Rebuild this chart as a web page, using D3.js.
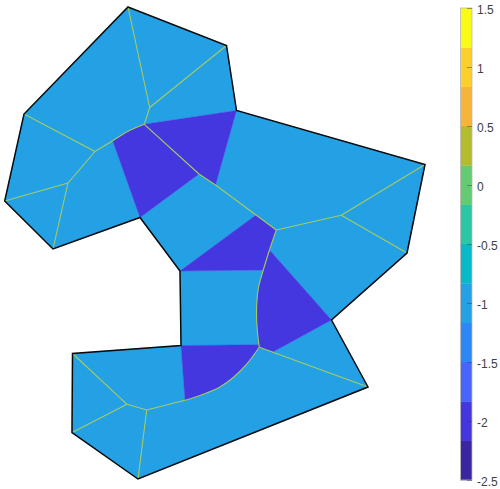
<!DOCTYPE html>
<html><head><meta charset="utf-8">
<script src="https://cdn.jsdelivr.net/npm/d3@7"></script>
<style>html,body{margin:0;padding:0;background:#fff}svg{display:block}</style></head>
<body><div id="c"></div>
<script>
// mesh nodes [x, y] in mesh units
const nodes = {
 A:[12.8,0.7],B:[22.65,4.55],C:[23.65,11.05],D:[42.5,16.45],E:[40.7,25.3],F:[33.15,32.0],G:[36.8,38.7],
 H:[13.8,47.9],I:[7.2,43.25],J:[7.25,35.35],K:[18.1,34.55],L:[18.0,27.1],M:[14.0,21.75],N:[5.3,24.9],O:[0.47,20.1],P:[2.4,11.4],
 Q:[14.97,10.75],R:[14.43,12.43],S:[9.5,15.15],T:[6.8,18.3],U:[19.9,17.4],V:[21.55,18.5],W:[27.63,23.0],X:[34.13,21.53],
 Y:[25.93,34.73],Z:[12.7,40.43],AA:[14.67,41.0],AB:[18.5,40.03],
 a1:[11.27,14.07],a2:[12.67,13.2],a3:[13.55,12.78],b1:[25.6,21.5],
 c0:[27.17,24.33],c1:[26.95,25.0],c2:[26.63,26.0],c3:[26.33,27.0],c4:[25.83,28.83],c5:[25.67,30.5],c6:[25.67,32.17],c7:[25.83,34.0],
 d1:[25.9,34.47],e1:[27.33,35.17],
 f1:[24.67,36.42],f2:[23.33,37.75],f3:[22.0,38.7],f4:[20.67,39.3],f5:[19.33,39.78]
};
// cells as node lists with their values
const cellNodes = [
 ["A","Q","R","a3","a2","a1","S","P"],["A","B","Q"],["B","C","R","Q"],["P","S","T","O"],["O","T","N"],
 ["S","a1","M","N","T"],["C","D","X","W","b1","V"],["D","E","X"],["X","E","F","c1","c0","W"],["U","V","b1","L","M"],
 ["L","c3","c4","c5","c6","c7","d1","K"],["F","G","Y","e1"],["G","H","AA","AB","f5","f4","f3","f2","f1","Y"],["Z","AA","H","I"],
 ["J","K","AB","AA","Z"],["I","J","Z"],
 ["a1","a2","a3","R","U","M"],["R","C","V","U"],["L","b1","W","c0","c1","c2","c3"],
 ["c1","F","e1","Y","d1","c7","c6","c5","c4","c3","c2"],["K","d1","Y","f1","f2","f3","f4","f5","AB"]
];
const cellValues = [-1,-1,-1,-1,-1,-1,-1,-1,-1,-1,-1,-1,-1,-1,-1,-1,-2,-2,-2,-2,-2];
const outline = ["A","B","C","D","E","F","G","H","I","J","K","L","M","N","O","P"];
const edges = [
 ["A","Q","R"],["B","Q"],["S","T","N"],["P","S"],["O","T"],
 ["R","U","V","b1","W"],["W","X","D"],["X","E"],
 ["Y","G"],["AB","AA","H"],["AA","Z","J"],["Z","I"]
];
const arcEdges = [
 ["R","a3","a2","a1","S"],
 ["W","c0","c1","c2","c3","c4","c5","c6","c7","d1","Y"],
 ["Y","f1","f2","f3","f4","f5","AB"]
];
const levelColors = ["#3a26a0","#4437e0","#4565fb","#2d88f6","#24a0e5","#09b9c8","#2bc7a5","#63cc72","#b5bb2e","#f5b53a","#fcd02c","#f9fb15"];
const colorTicks = [-2.5,-2,-1.5,-1,-0.5,0,0.5,1,1.5];
const colorDomain = [-2.5,1.5];

const width=500,height=489;
const svg=d3.select("#c").append("svg").attr("width",width).attr("height",height);
const x=d3.scaleLinear().domain([0,50]).range([0,500]);
const y=d3.scaleLinear().domain([0,48.9]).range([0,489]);
const color=d3.scaleQuantize().domain(colorDomain).range(levelColors);
const line=d3.line().x(k=>x(nodes[k][0])).y(k=>y(nodes[k][1]));
const arcLine=d3.line().x(k=>x(nodes[k][0])).y(k=>y(nodes[k][1])).curve(d3.curveCatmullRom);

const cells=cellNodes.map((n,i)=>({n,v:cellValues[i]}));
svg.append("g").selectAll("path").data(cells).join("path")
 .attr("d",d=>line(d.n)+"Z").attr("fill",d=>color(d.v)).attr("stroke",d=>color(d.v)).attr("stroke-width",0.4);
const eg=svg.append("g").attr("fill","none").attr("stroke","#a3cc60").attr("stroke-width",1.1).attr("stroke-linejoin","round");
eg.selectAll("path.s").data(edges).join("path").attr("class","s").attr("d",line);
eg.selectAll("path.a").data(arcEdges).join("path").attr("class","a").attr("d",arcLine);
svg.append("path").attr("d",line(outline)+"Z").attr("fill","none").attr("stroke","#0a0a0a").attr("stroke-width",1.5).attr("stroke-linejoin","miter");

// colorbar
const cbY=d3.scaleLinear().domain(colorDomain).range([480,8]);
const cbL=460.5,cbR=472;
const step=(colorDomain[1]-colorDomain[0])/levelColors.length;
const cb=svg.append("g");
cb.selectAll("rect").data(levelColors).join("rect")
 .attr("x",cbL).attr("width",cbR-cbL)
 .attr("y",(d,i)=>cbY(colorDomain[0]+(i+1)*step))
 .attr("height",(d,i)=>cbY(colorDomain[0]+i*step)-cbY(colorDomain[0]+(i+1)*step)+0.3)
 .attr("fill",d=>d);
cb.append("rect").attr("x",cbL).attr("y",8).attr("width",cbR-cbL).attr("height",472)
 .attr("fill","none").attr("stroke","#b8b8b8").attr("stroke-width",0.8);
const axis=d3.axisRight(cbY).tickValues(colorTicks).tickSize(0).tickPadding(5)
 .tickFormat(d=>String(d));
const ag=cb.append("g").attr("transform",`translate(${cbR},0)`).call(axis);
ag.select(".domain").remove();
ag.selectAll("text").attr("font-family","'Liberation Sans',Arial,sans-serif").attr("font-size",12).attr("fill","#404040").attr("dy","0.42em");
ag.selectAll(".tick").append("line").attr("x1",-5).attr("x2",0).attr("stroke","#404040").attr("stroke-opacity",0.6).attr("stroke-width",0.8);
</script></body></html>
